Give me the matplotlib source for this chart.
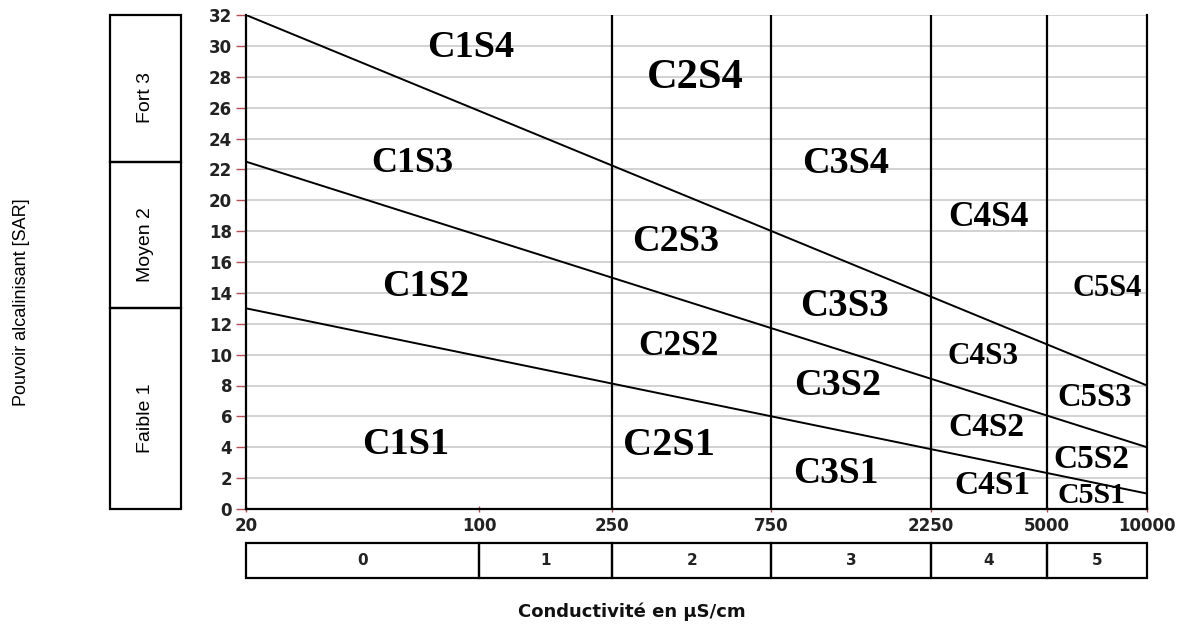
import numpy as np
import matplotlib
matplotlib.use("Agg")
import matplotlib.pyplot as plt
from matplotlib.patches import Rectangle
import matplotlib.transforms as mtransforms

# ==========================================
# DATA
# ==========================================
# conductivity class boundaries (uS/cm) and class numbers
cond_bounds = [20, 100, 250, 750, 2250, 5000, 10000]
cond_classes = ["0", "1", "2", "3", "4", "5"]
# vertical separators of the C1..C5 zones
zone_bounds = [250, 750, 2250, 5000]

# SAR ticks
sar_ticks = list(range(0, 33, 2))

# SAR class boundaries on the left column
sar_bounds = [0, 13, 22.5, 32]
sar_classes = ["Faible 1", "Moyen 2", "Fort 3"]

# the three sloping limits (SAR at 20 and at 10000 uS/cm)
line_x = [20, 10000]
line_s1s2 = [13, 1]
line_s2s3 = [22.5, 4]
line_s3s4 = [32, 8]

# zone labels and where they sit (conductivity, SAR)
zone_names = ["C1S4", "C2S4", "C1S3", "C3S4", "C4S4", "C2S3", "C1S2", "C5S4",
              "C3S3", "C2S2", "C4S3", "C3S2", "C5S3", "C4S2", "C1S1", "C2S1",
              "C3S1", "C5S2", "C4S1", "C5S1"]
zone_x = [94, 443, 63, 1254, 3342, 388, 69, 7590,
          1237, 396, 3228, 1187, 6989, 3296, 60, 370,
          1172, 6798, 3435, 6798]
zone_y = [29.9, 27.9, 22.4, 22.4, 18.9, 17.3, 14.4, 14.3,
          13.1, 10.5, 9.9, 8.0, 7.25, 5.25, 4.2, 4.1,
          2.3, 3.2, 1.5, 0.9]
zone_fs = [27.5, 30.5, 26, 27.5, 25.5, 27.5, 27.5, 22,
           28, 25.5, 22.5, 27.5, 23.5, 24, 27.5, 29,
           27, 24, 24, 21.5]

# ==========================================
# FIGURE
# ==========================================
fig = plt.figure(figsize=(11.89, 6.28), dpi=100)
ax = fig.add_axes([246 / 1189, 1 - 509 / 628, 901 / 1189, 494 / 628])

ax.set_xscale("log")
ax.set_xlim(cond_bounds[0], cond_bounds[-1])
ax.set_ylim(sar_ticks[0], sar_ticks[-1])

# grid
ax.set_axisbelow(True)
ax.yaxis.grid(True, color="#d2d2d2", linewidth=1.4)

# zone separators
for b in zone_bounds:
    ax.axvline(b, color="black", linewidth=1.6, zorder=2)

# sloping limits
for ys in (line_s1s2, line_s2s3, line_s3s4):
    ax.plot(line_x, ys, color="black", linewidth=1.4, zorder=3)

# zone labels
for name, x, y, fs in zip(zone_names, zone_x, zone_y, zone_fs):
    ax.text(x, y, name, ha="center", va="center", fontsize=fs,
            fontweight="bold", family=["Liberation Serif", "DejaVu Serif"],
            zorder=4)

# spines
ax.spines["top"].set_visible(False)
for s in ("left", "right", "bottom"):
    ax.spines[s].set_linewidth(1.6)
    ax.spines[s].set_color("black")

# ticks
ax.set_yticks(sar_ticks)
ax.set_yticklabels([str(t) for t in sar_ticks], fontsize=12, fontweight="bold",
                   color="#222222")
ax.set_xticks(cond_bounds)
ax.set_xticklabels([str(c) for c in cond_bounds], fontsize=12, fontweight="bold",
                   color="#222222")
ax.xaxis.set_minor_locator(matplotlib.ticker.NullLocator())
ax.tick_params(axis="y", length=7, width=1, color="#b05050", pad=3)
ax.tick_params(axis="x", length=5, width=1, color="#b05050", pad=3,
               direction="inout")

# left column with SAR classes
trans_left = mtransforms.blended_transform_factory(ax.transAxes, ax.transData)
for lo, hi, lab in zip(sar_bounds[:-1], sar_bounds[1:], sar_classes):
    ax.add_patch(Rectangle((-0.151, lo), 0.079, hi - lo, transform=trans_left,
                           fill=False, edgecolor="black", linewidth=1.6,
                           clip_on=False))
    ax.text(-0.1115, (lo + hi) / 2 - 0.6, lab, transform=trans_left, rotation=90,
            ha="center", va="center", fontsize=14,
            family=["Liberation Sans Narrow", "Liberation Sans", "DejaVu Sans"])

# bottom row with conductivity classes
trans_bot = mtransforms.blended_transform_factory(ax.transData, ax.transAxes)
for lo, hi, lab in zip(cond_bounds[:-1], cond_bounds[1:], cond_classes):
    ax.add_patch(Rectangle((lo, -0.1397), hi - lo, 0.0709, transform=trans_bot,
                           fill=False, edgecolor="black", linewidth=1.6,
                           clip_on=False))
    ax.text(np.sqrt(lo * hi), -0.104, lab, transform=trans_bot,
            ha="center", va="center", fontsize=11, fontweight="bold",
            color="#222222")

# axis titles
fig.text(22 / 1189, 1 - 302 / 628, "Pouvoir alcalinisant [SAR]", rotation=90,
         ha="center", va="center", fontsize=13,
         family=["Liberation Sans Narrow", "Liberation Sans", "DejaVu Sans"])
fig.text(632 / 1189, 1 - 612 / 628, "Conductivité en µS/cm", ha="center",
         va="center", fontsize=13, fontweight="bold", color="#111111")

fig.savefig("out.png", dpi=100, facecolor="white")
